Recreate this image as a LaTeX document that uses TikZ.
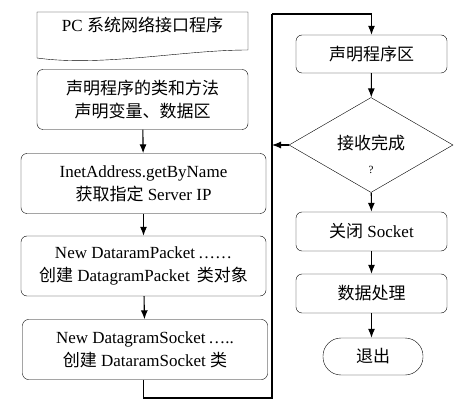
\documentclass[tikz,border=0pt]{standalone}
\usepackage{fontspec}
\setmainfont{Liberation Serif}
\newfontfamily\cjk{Noto Sans CJK SC}
\usetikzlibrary{arrows.meta,shapes.geometric,calc}
\begin{document}
\begin{tikzpicture}[x=1pt,y=-1pt,
	font=\fontsize{17}{23}\selectfont,
	every node/.style={align=center,inner sep=2pt},
	box/.style={draw,rounded corners=6pt,minimum height=60pt},
	flow/.style={-{Latex[length=9pt,width=7pt]},line width=1.1pt}]
\useasboundingbox (0,0) rectangle (465,411);
% left column
\node (pc) at (142.5,25) {PC {\cjk 系统网络接口程序}};
\draw ($(pc)+(-105.5,33)$) -- ($(pc)+(-105.5,-13)$) -- ($(pc)+(105.5,-13)$) -- ($(pc)+(105.5,25)$)
	.. controls ($(pc)+(40,25)$) and ($(pc)+(-40,42)$) .. cycle;
\node[box,minimum width=211pt] (decl) at (142.5,99.5) {{\cjk 声明程序的类和方法}\\{\cjk 声明变量、数据区}};
\node[box,minimum width=245pt] (inet) at (143.5,183.5) {InetAddress.getByName\\{\cjk 获取指定} Server IP};
\node[box,minimum width=245pt] (packet) at (143.5,266) {New DataramPacket\,\dots\dots\\{\cjk 创建} DatagramPacket\, {\cjk 类对象}};
\node[box,minimum width=245pt] (socket) at (145,349.5) {New DatagramSocket\,\dots..\\{\cjk 创建} DataramSocket {\cjk 类}};
% right column
\node[box,minimum width=151pt,minimum height=38pt] (area) at (371.5,54) {\cjk 声明程序区};
\node[draw,diamond,minimum width=164pt,minimum height=95pt,inner sep=0pt] (recv) at (371,145) {\raisebox{5pt}{\cjk 接收完成}};
\node[font=\fontsize{11}{13}\selectfont] (mark) at ($(recv)+(0,25)$) {?};
\node[box,minimum width=151pt,minimum height=39pt] (close) at (371.5,231.5) {{\cjk 关闭} Socket};
\node[box,minimum width=151pt,minimum height=39pt] (proc) at (371.5,293.5) {\cjk 数据处理};
\node[draw,rounded corners=18pt,minimum width=100pt,minimum height=37pt] (quit) at (373,356.5) {\cjk 退出};
\coordinate (bend) at (272,398);
\coordinate (top) at (272,14);
% connectors
\draw[flow] (decl) -- (inet);
\draw[flow] (inet) -- (packet);
\draw[flow] (packet) -- (socket);
\draw[line width=1.1pt] (socket.south -| inet) |- (bend) -- (top);
\draw[flow] (top) -| (area);
\draw[flow] (area) -- (recv);
\draw[flow] (recv) -- (recv -| bend);
\draw[flow] (recv) -- (close);
\draw[flow] (close) -- (proc);
\draw[flow] (proc) -- (quit.north -| proc);
\end{tikzpicture}
\end{document}
